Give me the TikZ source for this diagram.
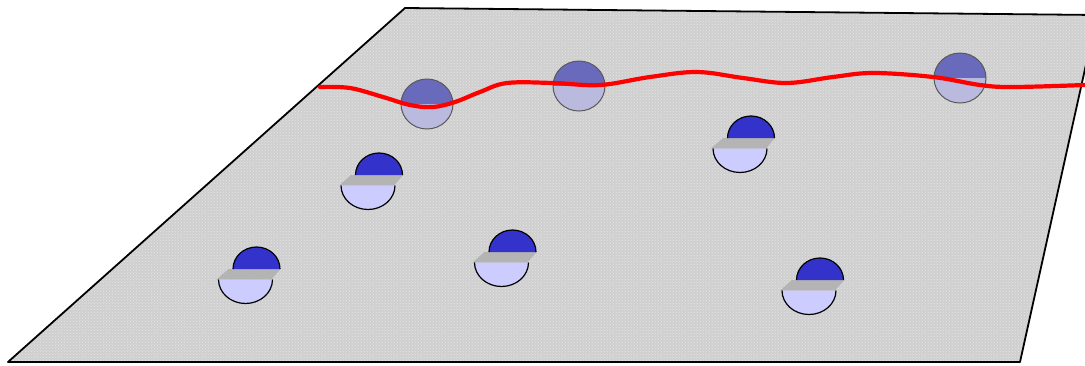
\documentclass[tikz,border=0pt]{standalone}
\usetikzlibrary{patterns}
\definecolor{planegray}{HTML}{CFCFCF}
\definecolor{speck}{HTML}{E6E6E6}
\definecolor{deepblue}{HTML}{3333CC}
\definecolor{paleblue}{HTML}{CCCCFF}
\definecolor{bandgray}{HTML}{B4B4B4}
\definecolor{mistblue}{HTML}{6A6ABC}
\definecolor{mistpale}{HTML}{BABADF}
\tikzset{
  planeedge/.style={draw=black, line width=1.8pt, line join=round},
  domestyle/.style={fill=deepblue, draw=black, line width=1.2pt},
  cupstyle/.style={fill=paleblue, draw=black, line width=1.2pt},
  bandstyle/.style={fill=bandgray, draw=none},
  sunktop/.style={fill=mistblue},
  sunkbottom/.style={fill=mistpale},
  sunkrim/.style={draw=black!65, line width=1pt},
  wave/.style={draw=red, line width=4.2pt, line cap=round, line join=round}
}
% a ball cut by the plane: dome above, grey slab, bowl below
\newcommand{\cutball}[2]{%
  \begin{scope}[shift={(#1,#2)}]
    \fill[bandstyle] (-28,0) -- (24,0) -- (15,10.5) -- (-40,10.5) -- cycle;
    \path[cupstyle] (-38,10.5) arc[start angle=180, end angle=360, x radius=27, y radius=-24];
    \path[domestyle] (-23.5,0) arc[start angle=180, end angle=0, x radius=23.5, y radius=-22];
  \end{scope}}
% a ball sitting half under the surface
\newcommand{\sunkball}[3]{%
  \begin{scope}[shift={(#1,#2)}]
    \begin{scope}
      \clip (-30,#3) rectangle (30,-30);
      \fill[sunktop] (0,0) ellipse[x radius=26, y radius=25];
    \end{scope}
    \begin{scope}
      \clip (-30,#3) rectangle (30,30);
      \fill[sunkbottom] (0,0) ellipse[x radius=26, y radius=25];
    \end{scope}
    \path[sunkrim] (0,0) ellipse[x radius=26, y radius=25];
  \end{scope}}
\begin{document}
\begin{tikzpicture}[x=1pt, y=-1pt]
  \useasboundingbox (0,0) rectangle (1085,365);
  \clip (0,0) rectangle (1085,365);
  % the plane
  \coordinate (pTL) at (405,8);
  \coordinate (pTR) at (1097,15);
  \coordinate (pBR) at (1020,362);
  \coordinate (pBL) at (8,362);
  \fill[planegray] (pTL) -- (pTR) -- (pBR) -- (pBL) -- cycle;
  \fill[pattern=crosshatch dots, pattern color=speck] (pTL) -- (pTR) -- (pBR) -- (pBL) -- cycle;
  \draw[planeedge] (pTL) -- (pTR) -- (pBR) -- (pBL) -- cycle;
  % balls resting on the plane
  \cutball{379}{175}
  \cutball{256.5}{269}
  \cutball{512.5}{252}
  \cutball{751}{138}
  \cutball{820}{280}
  % sunken balls along the curve
  \sunkball{427}{104}{0}
  \sunkball{579}{86}{0}
  \sunkball{960}{78}{0}
  % the red curve
  \draw[wave] plot[smooth, tension=0.6] coordinates {
    (320,87) (350,88) (383,97) (410,105) (433,107) (455,102) (480,92)
    (507,83) (553,83) (600,85) (650,77) (697,72) (743,78) (787,83)
    (833,77) (873,73) (933,77) (980,85) (1013,87) (1085,85)};
\end{tikzpicture}
\end{document}
